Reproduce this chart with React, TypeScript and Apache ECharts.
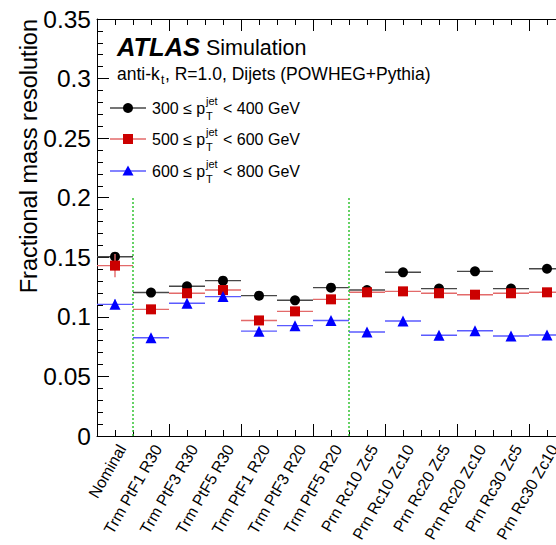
import React, { useEffect, useRef } from "react";
import * as echarts from "echarts";

const categories = [
  "Nominal",
  "Trm PtF1 R30",
  "Trm PtF3 R30",
  "Trm PtF5 R30",
  "Trm PtF1 R20",
  "Trm PtF3 R20",
  "Trm PtF5 R20",
  "Prn Rc10 Zc5",
  "Prn Rc10 Zc10",
  "Prn Rc20 Zc5",
  "Prn Rc20 Zc10",
  "Prn Rc30 Zc5",
  "Prn Rc30 Zc10",
];

const res300 = [0.1505, 0.1204, 0.1257, 0.1304, 0.1178, 0.1139, 0.1245, 0.1225, 0.1374, 0.1237, 0.1382, 0.1237, 0.1404];
const res500 = [0.143, 0.1063, 0.1198, 0.1225, 0.097, 0.1046, 0.1147, 0.1206, 0.1214, 0.1198, 0.1186, 0.1198, 0.1206];
const res600 = [0.1105, 0.0825, 0.1114, 0.117, 0.088, 0.0926, 0.097, 0.0873, 0.0965, 0.0845, 0.0884, 0.0839, 0.0848];

const err300 = [0.004, 0.003, 0.003, 0.003, 0.003, 0.003, 0.003, 0.003, 0.003, 0.003, 0.003, 0.003, 0.003];
const err500 = [0.0098, 0.003, 0.003, 0.003, 0.003, 0.003, 0.003, 0.003, 0.003, 0.003, 0.003, 0.003, 0.003];
const err600 = [0.004, 0.002, 0.002, 0.002, 0.002, 0.002, 0.002, 0.002, 0.002, 0.002, 0.002, 0.002, 0.002];

const legendLabels = [
  ["300", "400"],
  ["500", "600"],
  ["600", "800"],
];

const groupSeparators = [1, 7];
const separatorTop = 0.2;

const yTicks = [0, 0.05, 0.1, 0.15, 0.2, 0.25, 0.3, 0.35];

const FONT = "'Liberation Sans', Arial, Helvetica, sans-serif";

export default function App() {
  const ref = useRef<HTMLDivElement>(null);

  useEffect(() => {
    if (!ref.current) return;
    const chart = echarts.init(ref.current, null, { renderer: "svg" });

    const defs = [
      { values: res300, err: err300, color: "#000000", lineColor: "#474747", symbol: "circle", size: 10 },
      { values: res500, err: err500, color: "#cc0000", lineColor: "#e36a6a", symbol: "rect", size: 10 },
      { values: res600, err: err600, color: "#0000ff", lineColor: "#5a5aff", symbol: "triangle", size: 11 },
    ];

    const series: any[] = [];
    defs.forEach((d, k) => {
      series.push({
        type: "custom",
        xAxisIndex: 0,
        yAxisIndex: 0,
        z: 2 + k * 2,
        silent: true,
        data: d.values.map((v, i) => [i, v, d.err[i]]),
        encode: { x: 0, y: 1 },
        renderItem: (params: any, api: any) => {
          const i = api.value(0);
          const v = api.value(1);
          const e = api.value(2);
          const p0 = api.coord([i, v]);
          const p1 = api.coord([i + 1, v]);
          const lo = api.coord([i + 0.5, v - e]);
          const hi = api.coord([i + 0.5, v + e]);
          return {
            type: "group",
            children: [
              {
                type: "line",
                shape: { x1: p0[0], y1: p0[1], x2: p1[0], y2: p1[1] },
                style: { stroke: d.lineColor, lineWidth: 1.4 },
              },
              {
                type: "line",
                shape: { x1: lo[0], y1: lo[1], x2: hi[0], y2: hi[1] },
                style: { stroke: d.lineColor, lineWidth: 1.4 },
              },
            ],
          };
        },
      });
      const scatter: any = {
        type: "scatter",
        xAxisIndex: 0,
        yAxisIndex: 0,
        z: 3 + k * 2,
        silent: true,
        symbol: d.symbol,
        symbolSize: d.size,
        itemStyle: { color: d.color, opacity: 1 },
        data: d.values.map((v, i) => [i + 0.5, v]),
      };
      if (k === 0) {
        scatter.markLine = {
          silent: true,
          symbol: ["none", "none"],
          label: { show: false },
          lineStyle: { color: "#33c433", type: [2, 2], width: 1.5 },
          data: groupSeparators.map((s) => [{ coord: [s, 0] }, { coord: [s, separatorTop] }]),
        };
      }
      series.push(scatter);
    });

    const legendRows = [108, 139, 171];
    const graphic: any[] = [
      {
        type: "text",
        style: { text: "ATLAS", x: 117, y: 47, fontFamily: FONT, fontSize: 25.5, fontWeight: "bold", fontStyle: "italic", fill: "#000", verticalAlign: "middle" },
      },
      {
        type: "text",
        style: { text: "Simulation", x: 206, y: 48, fontFamily: FONT, fontSize: 21.5, fill: "#000", verticalAlign: "middle" },
      },
      {
        type: "text",
        style: { text: "anti-k", x: 117, y: 74, fontFamily: FONT, fontSize: 17.5, fill: "#000", verticalAlign: "middle" },
      },
      {
        type: "text",
        style: { text: "t", x: 161, y: 80, fontFamily: FONT, fontSize: 12, fill: "#000", verticalAlign: "middle" },
      },
      {
        type: "text",
        style: { text: ", R=1.0, Dijets (POWHEG+Pythia)", x: 165, y: 74, fontFamily: FONT, fontSize: 17.5, fill: "#000", verticalAlign: "middle" },
      },
      {
        type: "text",
        rotation: Math.PI / 2,
        x: 29,
        y: 19,
        style: { text: "Fractional mass resolution", x: 0, y: 0, fontFamily: FONT, fontSize: 23.5, fill: "#000", align: "right", verticalAlign: "middle" },
      },
    ];
    legendRows.forEach((y, k) => {
      const d = defs[k];
      graphic.push({
        type: "line",
        shape: { x1: 110, y1: y, x2: 146, y2: y },
        style: { stroke: d.lineColor, lineWidth: 1.4 },
      });
      if (k === 0) {
        graphic.push({ type: "circle", shape: { cx: 128, cy: y, r: 5 }, style: { fill: d.color } });
      } else if (k === 1) {
        graphic.push({ type: "rect", shape: { x: 123, y: y - 5, width: 10, height: 10 }, style: { fill: d.color } });
      } else {
        graphic.push({
          type: "polygon",
          shape: { points: [[128, y - 5.5], [133.5, y + 4.5], [122.5, y + 4.5]] },
          style: { fill: d.color },
        });
      }
      const [lo, hi] = legendLabels[k];
      graphic.push({
        type: "text",
        style: { text: lo + " \u2264 p", x: 152, y: y, fontFamily: FONT, fontSize: 16, fill: "#000", verticalAlign: "middle" },
      });
      graphic.push({
        type: "text",
        style: { text: "jet", x: 206, y: y - 7, fontFamily: FONT, fontSize: 11, fill: "#000", verticalAlign: "middle" },
      });
      graphic.push({
        type: "text",
        style: { text: "T", x: 206, y: y + 8, fontFamily: FONT, fontSize: 11, fill: "#000", verticalAlign: "middle" },
      });
      graphic.push({
        type: "text",
        style: { text: "< " + hi + " GeV", x: 223, y: y, fontFamily: FONT, fontSize: 16, fill: "#000", verticalAlign: "middle" },
      });
    });

    const valueXAxis = (position: string) => ({
      type: "value",
      gridIndex: 0,
      position,
      min: 0,
      max: categories.length,
      interval: 2,
      axisLine: { show: true, onZero: false, lineStyle: { color: "#000", width: 1 } },
      axisTick: { show: true, inside: true, length: 12, lineStyle: { color: "#000", width: 1 } },
      minorTick: { show: true, splitNumber: 4, length: 6, lineStyle: { color: "#000", width: 1 } },
      axisLabel: { show: false },
      splitLine: { show: false },
      minorSplitLine: { show: false },
    });

    chart.setOption({
      animation: false,
      backgroundColor: "#ffffff",
      grid: [
        { left: 97, right: 35, top: 19, bottom: 109, containLabel: false },
        { left: 104, right: 28, top: 19, bottom: 109, containLabel: false },
      ],
      xAxis: [
        valueXAxis("bottom"),
        valueXAxis("top"),
        {
          type: "category",
          gridIndex: 1,
          position: "bottom",
          data: categories,
          boundaryGap: true,
          axisLine: { show: false },
          axisTick: { show: false },
          axisLabel: {
            show: true,
            interval: 0,
            rotate: 60,
            margin: 11,
            fontFamily: FONT,
            fontSize: 16,
            color: "#000",
          },
          splitLine: { show: false },
        },
      ],
      yAxis: [
        {
          type: "value",
          gridIndex: 0,
          min: yTicks[0],
          max: yTicks[yTicks.length - 1],
          interval: 0.05,
          axisLine: { show: true, lineStyle: { color: "#000", width: 1 } },
          axisTick: { show: true, inside: true, length: 12, lineStyle: { color: "#000", width: 1 } },
          minorTick: { show: true, splitNumber: 5, length: 6, lineStyle: { color: "#000", width: 1 } },
          axisLabel: {
            show: true,
            margin: 6,
            fontFamily: FONT,
            fontSize: 24.5,
            color: "#000",
            formatter: (v: number) => String(parseFloat(v.toFixed(2))),
          },
          splitLine: { show: false },
          minorSplitLine: { show: false },
        },
        {
          type: "value",
          gridIndex: 1,
          show: false,
        },
      ],
      series,
      graphic,
    });

    return () => chart.dispose();
  }, []);

  return (
    <div
      ref={ref}
      style={{ position: "fixed", left: 0, top: 0, width: 600, height: 545, background: "#fff" }}
    />
  );
}
